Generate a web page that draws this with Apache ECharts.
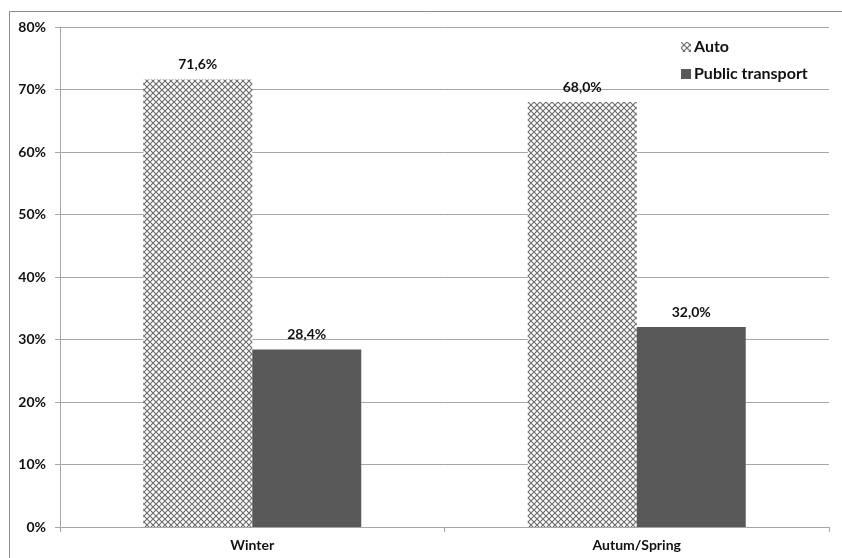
<!DOCTYPE html>
<html>
<head>
<meta charset="utf-8">
<script src="https://cdn.jsdelivr.net/npm/echarts@6/dist/echarts.min.js"></script>
<style>
  html, body { margin: 0; padding: 0; background: #fff; }
  #chart { width: 842px; height: 558px; }
</style>
</head>
<body>
<div id="chart"></div>
<script>
// Modal split by season
const categories = ['Winter', 'Autum/Spring'];
const autoShare = [71.6, 68.0];
const publicShare = [28.4, 32.0];
const seriesNames = ['Auto', 'Public transport'];

// Cross-hatch fill for the car bars
function hatch() {
  const c = document.createElement('canvas');
  const s = 6;
  c.width = s; c.height = s;
  const g = c.getContext('2d');
  g.fillStyle = '#ffffff';
  g.fillRect(0, 0, s, s);
  g.strokeStyle = '#6e6e6e';
  g.lineWidth = 1.2;
  g.beginPath();
  g.moveTo(0, 0); g.lineTo(s, s);
  g.moveTo(s, 0); g.lineTo(0, s);
  g.stroke();
  return c;
}

const fmt = v => v.toFixed(1).replace('.', ',') + '%';
const font = 'Lato, "Open Sans", sans-serif';
const txt = '#111';

const chart = echarts.init(document.getElementById('chart'), null, { renderer: 'canvas' });
chart.setOption({
  animation: false,
  backgroundColor: '#fff',
  textStyle: { fontFamily: font },
  graphic: [{
    type: 'rect',
    shape: { x: 9.5, y: 11.5, width: 900, height: 700 },
    style: { fill: 'none', stroke: '#8c8c8c', lineWidth: 1 },
    silent: true
  }],
  grid: { left: 60, right: 13, top: 27, bottom: 31 },
  legend: {
    orient: 'vertical',
    left: 676,
    top: 34,
    itemGap: 11,
    itemWidth: 10,
    itemHeight: 10,
    icon: 'rect',
    data: seriesNames,
    textStyle: { fontFamily: font, fontWeight: 'bold', fontSize: 16, color: txt, padding: [0, 0, 0, -2] }
  },
  xAxis: {
    type: 'category',
    data: categories,
    axisLine: { lineStyle: { color: '#a6a6a6' } },
    axisTick: { show: true, length: 5, lineStyle: { color: '#a6a6a6' } },
    axisLabel: { fontFamily: font, fontWeight: 'bold', fontSize: 14, color: txt, margin: 11 }
  },
  yAxis: {
    type: 'value',
    min: 0, max: 80, interval: 10,
    axisLine: { show: true, lineStyle: { color: '#a6a6a6' } },
    axisTick: { show: true, length: 5, lineStyle: { color: '#a6a6a6' } },
    splitLine: { lineStyle: { color: '#a6a6a6' } },
    axisLabel: { formatter: '{value}%', fontFamily: font, fontWeight: 'bold', fontSize: 14, color: txt, margin: 14 }
  },
  series: [
    {
      name: seriesNames[0],
      type: 'bar',
      data: autoShare,
      barWidth: 109,
      barGap: '0%',
      itemStyle: { color: { image: hatch(), repeat: 'repeat' } },
      label: { show: true, position: 'top', distance: 8, formatter: p => fmt(p.value), fontFamily: font, fontWeight: 'bold', fontSize: 14, color: txt }
    },
    {
      name: seriesNames[1],
      type: 'bar',
      data: publicShare,
      barWidth: 109,
      barGap: '0%',
      itemStyle: { color: '#595959' },
      label: { show: true, position: 'top', distance: 8, formatter: p => fmt(p.value), fontFamily: font, fontWeight: 'bold', fontSize: 14, color: txt }
    }
  ]
});
</script>
</body>
</html>
